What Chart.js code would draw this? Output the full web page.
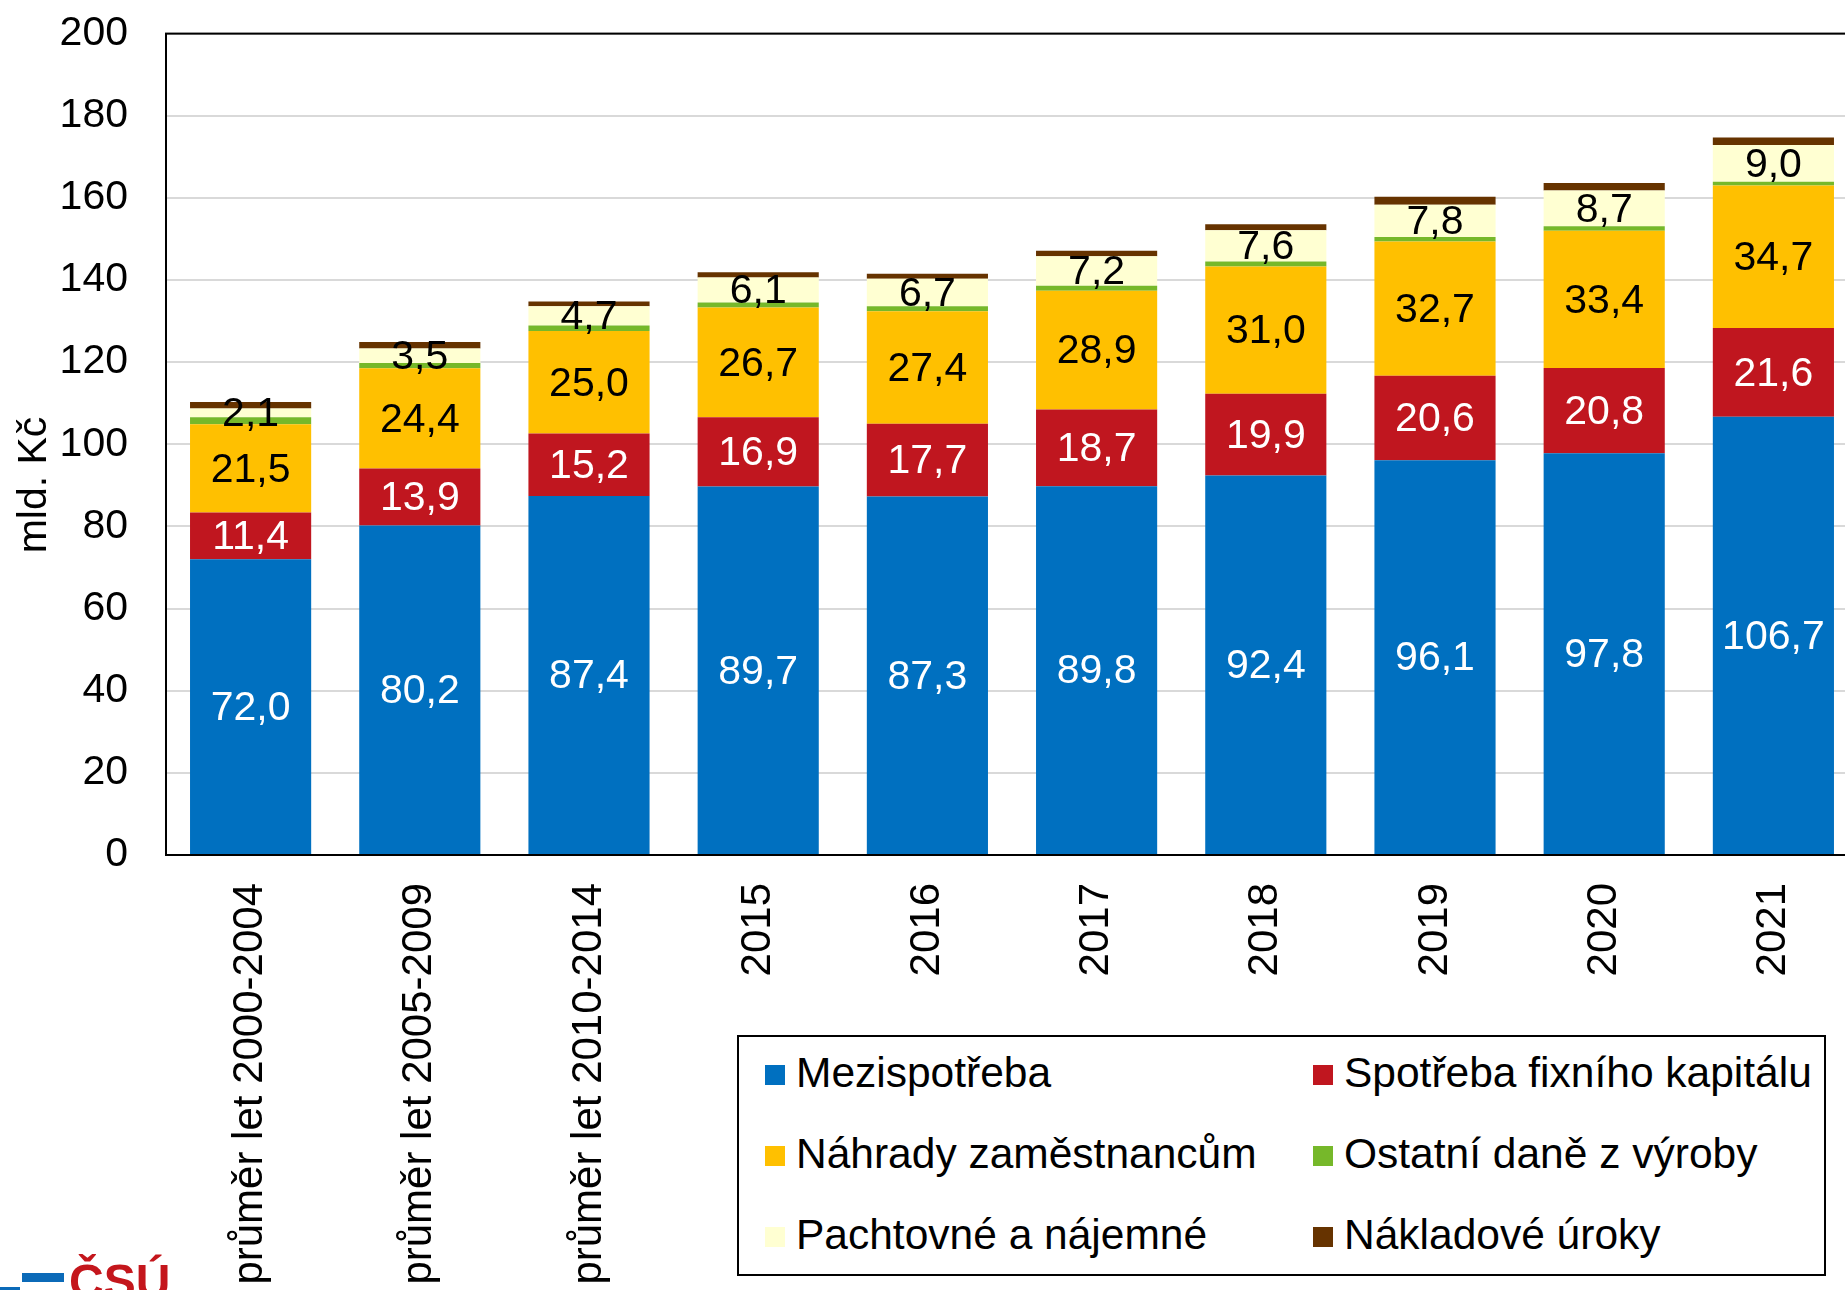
<!DOCTYPE html>
<html lang="cs">
<head>
<meta charset="utf-8">
<title>Náklady zemědělství</title>
<script src="https://cdn.jsdelivr.net/npm/chart.js@4.4.1/dist/chart.umd.min.js"></script>
<style>
  html, body { margin: 0; padding: 0; background: #fff; }
  body { width: 1845px; height: 1290px; overflow: hidden; position: relative; font-family: "Liberation Sans", Arial, sans-serif; }
  #obal { position: absolute; left: 0; top: -29px; width: 1860px; height: 1330px; }
  #legenda {
    position: absolute; left: 737px; top: 1035px; width: 1089px; height: 241px;
    border: 2px solid #000; background: #fff; box-sizing: border-box;
  }
  .polozka { position: absolute; font-size: 42.5px; color: #000; white-space: nowrap; line-height: 1; }
  .polozka span.ctverec { display: inline-block; width: 20px; height: 20px; margin-right: 11px; vertical-align: 2px; }
  #logo { position: absolute; left: 0; top: 1258px; }
  #logo .pruh { position: absolute; left: 22px; top: 15px; width: 42px; height: 9px; background: #0b6ab8; }
  #logo .pruh2 { position: absolute; left: 0; top: 29px; width: 20px; height: 6px; background: #0b6ab8; }
  #logo .text { position: absolute; left: 69px; top: 0; font-size: 48px; font-weight: bold; color: #c4161c; line-height: 1; }
</style>
</head>
<body>
<div id="obal"><canvas id="grafNaklady" width="1860" height="1330"></canvas></div>
<div id="legenda"></div>
<div id="logo"><div class="pruh"></div><div class="pruh2"></div><div class="text">ČSÚ</div></div>

<script>
/* data (mld. Kč) */
const kategorie = ['průměr let 2000-2004', 'průměr let 2005-2009', 'průměr let 2010-2014',
                   '2015', '2016', '2017', '2018', '2019', '2020', '2021'];

const mezispotreba      = [72.0, 80.2, 87.4, 89.7, 87.3, 89.8, 92.4, 96.1, 97.8, 106.7];
const spotrebaKapitalu  = [11.4, 13.9, 15.2, 16.9, 17.7, 18.7, 19.9, 20.6, 20.8, 21.6];
const nahradyZamest     = [21.5, 24.4, 25.0, 26.7, 27.4, 28.9, 31.0, 32.7, 33.4, 34.7];
const ostatniDane       = [1.7, 1.3, 1.3, 1.2, 1.2, 1.2, 1.2, 1.1, 1.1, 0.9];
const pachtovne         = [2.1, 3.5, 4.7, 6.1, 6.7, 7.2, 7.6, 7.8, 8.7, 9.0];
const nakladoveUroky    = [1.6, 1.6, 1.2, 1.3, 1.2, 1.3, 1.5, 2.0, 1.8, 1.8];

const osaY = { min: 0, max: 200, krok: 20 };

const FONT = '"Liberation Sans", Arial, sans-serif';
const POSUN = 29; // canvas je posunuty nahoru

const rady = [
  { label: 'Mezispotřeba', data: mezispotreba, barva: '#0070c0', popisek: '#ffffff' },
  { label: 'Spotřeba fixního kapitálu', data: spotrebaKapitalu, barva: '#c0161f', popisek: '#ffffff' },
  { label: 'Náhrady zaměstnancům', data: nahradyZamest, barva: '#ffc000', popisek: '#000000' },
  { label: 'Ostatní daně z výroby', data: ostatniDane, barva: '#76b82a', popisek: null },
  { label: 'Pachtovné a nájemné', data: pachtovne, barva: '#ffffd2', popisek: '#000000' },
  { label: 'Nákladové úroky', data: nakladoveUroky, barva: '#663300', popisek: null }
];

// popisky hodnot uprostred segmentu + ramecek + nazev osy
const doplnky = {
  id: 'doplnky',
  afterDatasetsDraw(chart) {
    const ctx = chart.ctx;
    ctx.save();
    ctx.font = '41px ' + FONT;
    ctx.textAlign = 'center';
    ctx.textBaseline = 'middle';
    chart.data.datasets.forEach((ds, i) => {
      if (!rady[i].popisek) return;
      const meta = chart.getDatasetMeta(i);
      meta.data.forEach((bar, j) => {
        const stred = (bar.y + bar.base) / 2;
        ctx.fillStyle = rady[i].popisek;
        ctx.fillText(ds.data[j].toFixed(1).replace('.', ','), bar.x, stred + 2);
      });
    });
    ctx.restore();
  },
  afterDraw(chart) {
    const ctx = chart.ctx;
    const a = chart.chartArea;
    ctx.save();
    ctx.strokeStyle = '#000';
    ctx.lineWidth = 2;
    ctx.strokeRect(a.left, a.top, a.right - a.left, a.bottom - a.top);
    ctx.translate(35, 485 + POSUN);
    ctx.rotate(-Math.PI / 2);
    ctx.font = '41px ' + FONT;
    ctx.fillStyle = '#000';
    ctx.textAlign = 'center';
    ctx.textBaseline = 'middle';
    ctx.fillText('mld. Kč', 0, 0);
    ctx.restore();
  }
};

function vytvorGraf() {
  const ctx = document.getElementById('grafNaklady').getContext('2d');
  new Chart(ctx, {
    type: 'bar',
    data: {
      labels: kategorie,
      datasets: rady.map(r => ({
        label: r.label,
        data: r.data,
        backgroundColor: r.barva,
        borderWidth: 0,
        categoryPercentage: 1,
        barPercentage: 0.716
      }))
    },
    options: {
      responsive: false,
      animation: false,
      devicePixelRatio: 1,
      layout: { padding: { top: 4, right: 2, left: 0, bottom: 0 } },
      plugins: { legend: { display: false }, tooltip: { enabled: false } },
      scales: {
        x: {
          stacked: true,
          grid: { display: false, drawTicks: false },
          border: { display: true, color: '#000', width: 2 },
          ticks: {
            color: '#000', font: { family: FONT, size: 42 },
            maxRotation: 90, minRotation: 90, autoSkip: false, padding: 28
          },
          afterFit(scale) { scale.height = 446; }
        },
        y: {
          stacked: true,
          min: osaY.min, max: osaY.max,
          grid: { color: '#d9d9d9', lineWidth: 2, drawTicks: false },
          border: { display: true, color: '#000', width: 2 },
          ticks: {
            stepSize: osaY.krok, color: '#000', padding: 38,
            font: { family: FONT, size: 41 }
          },
          afterFit(scale) { scale.width = 166; }
        }
      }
    },
    plugins: [doplnky]
  });
}

function vytvorLegendu() {
  const box = document.getElementById('legenda');
  const sloupceX = [26, 574];
  const radkyY = [15, 96, 177];
  rady.forEach((r, i) => {
    const el = document.createElement('div');
    el.className = 'polozka';
    el.style.left = sloupceX[i % 2] + 'px';
    el.style.top = radkyY[Math.floor(i / 2)] + 'px';
    el.innerHTML = '<span class="ctverec" style="background:' + r.barva + '"></span>' + r.label;
    box.appendChild(el);
  });
}

window.onload = () => {
  vytvorGraf();
  vytvorLegendu();
};
</script>
</body>
</html>
